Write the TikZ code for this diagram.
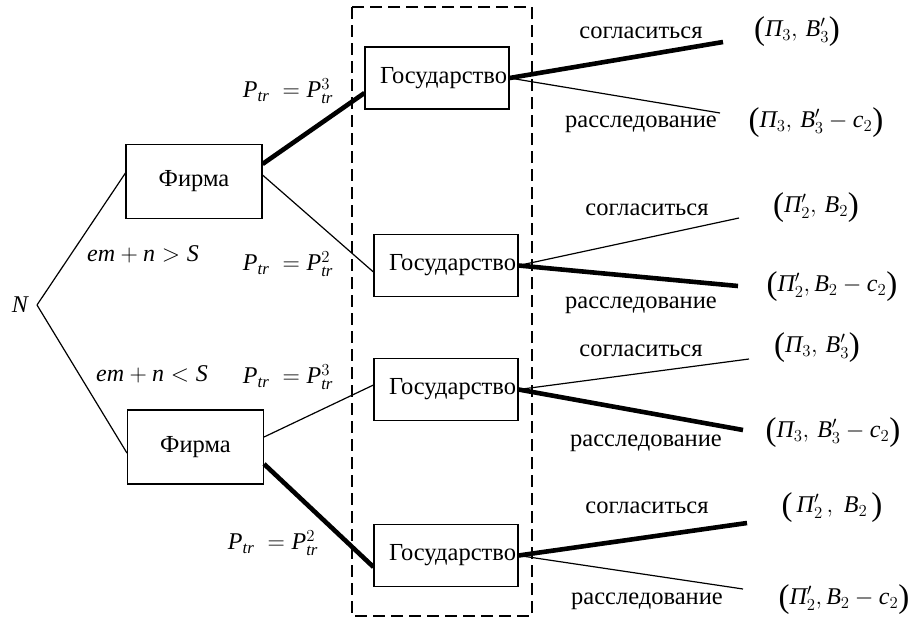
\RequirePackage{fix-cm}
\documentclass[tikz,border=0pt]{standalone}
\usepackage{fontspec}
\setmainfont{Liberation Serif}
\newcommand\mi[1]{\mathit{#1}}
\newcommand\Pii{\mbox{\itshape Π}}
\newcommand\lpar{\mbox{\raisebox{-3.5pt}{\fontsize{33}{33}\selectfont(}}}
\newcommand\rpar{\mbox{\raisebox{-3.5pt}{\fontsize{33}{33}\selectfont)}}}
\begin{document}
\begin{tikzpicture}[x=1pt,y=-1pt,
  thinl/.style={line width=1.2pt},
  thickl/.style={line width=4.6pt},
  fbox/.style={draw,line width=1.1pt,minimum width=136pt,minimum height=74pt,inner sep=0pt,font=\fontsize{24.5}{28}\selectfont},
  gbox/.style={draw,line width=1.1pt,text width=140pt,align=right,inner xsep=2pt,minimum height=62pt,inner ysep=0pt,font=\fontsize{24.5}{28}\selectfont},
  lab/.style={font=\fontsize{24.5}{28}\selectfont,inner sep=0pt},
  mth/.style={font=\fontsize{24}{28}\selectfont,inner sep=0pt}]
\useasboundingbox (0,0) rectangle (911,619);
% dashed frame
\draw[line width=1.2pt,dash pattern=on 12pt off 6pt] (352,7) rectangle (532,616);
% nodes
\node[mth] (N) at (20,305) {$\mi{N}$};
\coordinate (n0) at (37,305);
\node[fbox] (f1) at (194,181.5) {Фирма};
\node[fbox] (f2) at (195.5,447) {Фирма};
\node[gbox] (g1) at (437,78) {Государство};
\node[gbox] (g2) at (446,265.5) {Государство};
\node[gbox] (g3) at (446,389.5) {Государство};
\node[gbox] (g4) at (446,555.5) {Государство};
% free ends
\coordinate (e1) at (723,42);
\coordinate (e2) at (720,113);
\coordinate (e3) at (739,218);
\coordinate (e4) at (738,286);
\coordinate (e5) at (749,359);
\coordinate (e6) at (743,430);
\coordinate (e7) at (747,523);
\coordinate (e8) at (743,589);
% connectors
\draw[thinl] (n0) -- ([yshift=8.5pt]f1.west);
\draw[thinl] (n0) -- ([yshift=-6pt]f2.west);
\draw[thickl] ([yshift=17.5pt]f1.east) -- ([yshift=-15pt]g1.west);
\draw[thinl] ([yshift=6.5pt]f1.east) -- ([yshift=-6.5pt]g2.west);
\draw[thinl] ([yshift=10pt]f2.east) -- ([yshift=4.5pt]g3.west);
\draw[thickl] ([yshift=-17pt]f2.east) -- ([yshift=-11.5pt]g4.west);
\draw[thickl] (g1.east) -- (e1);
\draw[thinl] (g1.east) -- (e2);
\draw[thinl] (g2.east) -- (e3);
\draw[thickl] (g2.east) -- (e4);
\draw[thinl] (g3.east) -- (e5);
\draw[thickl] (g3.east) -- (e6);
\draw[thickl] (g4.east) -- (e7);
\draw[thinl] (g4.east) -- (e8);
% branch labels
\node[lab] (l1) at (641,33) {согласиться};
\node[lab] (l2) at (641,124) {расследование};
\node[lab] (l3) at (647,210) {согласиться};
\node[lab] (l4) at (641,305) {расследование};
\node[lab] (l5) at (641,351) {согласиться};
\node[lab] (l6) at (646,443) {расследование};
\node[lab] (l7) at (647,508) {согласиться};
\node[lab] (l8) at (647,601) {расследование};
% conditions
\node[mth] (c1) at (143,254) {$\mi{em}+\mi{n}>\mi{S}$};
\node[mth] (c2) at (152,374) {$\mi{em}+\mi{n}<\mi{S}$};
\node[mth] (p1) at (288,91) {$\mi{P}_{\mi{tr}}\;=\mi{P}_{\mi{tr}}^{3}$};
\node[mth] (p2) at (288,264) {$\mi{P}_{\mi{tr}}\;=\mi{P}_{\mi{tr}}^{2}$};
\node[mth] (p3) at (288,377) {$\mi{P}_{\mi{tr}}\;=\mi{P}_{\mi{tr}}^{3}$};
\node[mth] (p4) at (273,543) {$\mi{P}_{\mi{tr}}\;=\mi{P}_{\mi{tr}}^{2}$};
% payoffs
\node[mth] (o1) at (797,32) {$\lpar\Pii_3,\, \mi{B}_3^{\prime}\rpar$};
\node[mth] (o2) at (816,123) {$\lpar\Pii_3,\, \mi{B}_3^{\prime}-\mi{c}_2\rpar$};
\node[mth] (o3) at (816,208) {$\lpar\Pii_2^{\prime},\, \mi{B}_2\rpar$};
\node[mth] (o4) at (832,287) {$\lpar\Pii_2^{\prime}, \mi{B}_2-\mi{c}_2\rpar$};
\node[mth] (o5) at (817,348) {$\lpar\Pii_3,\, \mi{B}_3^{\prime}\rpar$};
\node[mth] (o6) at (833,433) {$\lpar\Pii_3,\, \mi{B}_3^{\prime}-\mi{c}_2\rpar$};
\node[mth] (o7) at (832,508) {$\lpar\,\Pii_2^{\prime}\,,\; \mi{B}_2\,\rpar$};
\node[mth] (o8) at (844,600) {$\lpar\Pii_2^{\prime}, \mi{B}_2-\mi{c}_2\rpar$};
\end{tikzpicture}
\end{document}
